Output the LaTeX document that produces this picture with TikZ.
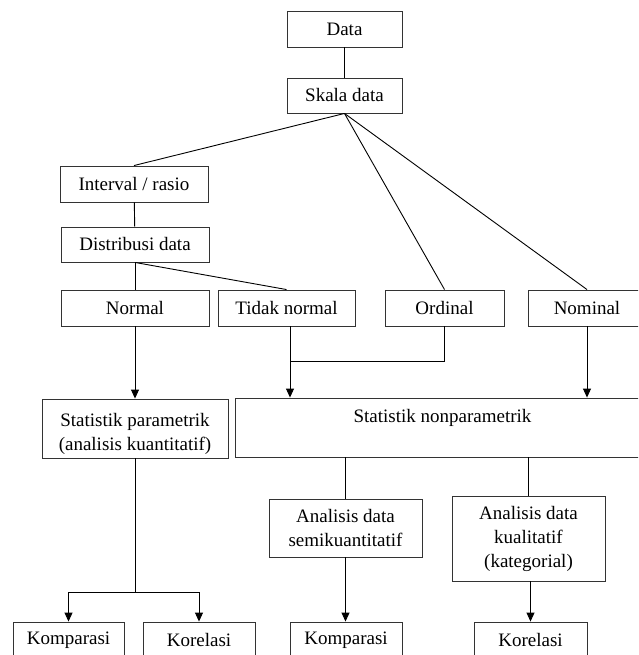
\documentclass[tikz,border=0pt]{standalone}
\usepackage{fontspec}
\setmainfont{Liberation Serif}
\usetikzlibrary{arrows.meta}
\newcommand{\lowerby}[2]{\raisebox{-#1}[\height][\depth]{#2}}
\begin{document}
\begin{tikzpicture}[x=1pt,y=1pt,
  box/.style={draw=black!80, line width=0.9pt, align=center, inner sep=0pt,
    font=\fontsize{19}{24}\selectfont},
  conn/.style={draw=black, line width=0.9pt},
  arr/.style={conn, -{Triangle[length=9pt,width=8pt]}}]
\clip (0,0) rectangle (638,-655);
\fill[white] (0,0) rectangle (638,-655);
% nodes
\node[box, minimum width=115, minimum height=36] (data) at (344.5,-29) {Data};
\node[box, minimum width=115, minimum height=35] (skala) at (344.5,-95.5) {Skala data};
\node[box, minimum width=148, minimum height=36] (interval) at (134,-184) {Interval / rasio};
\node[box, minimum width=148, minimum height=35] (distribusi) at (135,-244.5) {Distribusi data};
\node[box, minimum width=148, minimum height=36] (normal) at (135,-308) {Normal};
\node[box, minimum width=137, minimum height=36] (tidak) at (286.5,-308) {Tidak normal};
\node[box, minimum width=119, minimum height=36] (ordinal) at (444.5,-308) {Ordinal};
\node[box, minimum width=118, minimum height=36] (nominal) at (587,-308) {Nominal};
\node[box, minimum width=186, minimum height=59] (param) at (135,-428.5) {\lowerby{5pt}{Statistik parametrik}\\\lowerby{5pt}{(analisis kuantitatif)}};
\node[box, minimum width=415, minimum height=59] (nonparam) at (442.5,-427.5) {\lowerby{4pt}{Statistik nonparametrik}\\\strut};
\node[box, minimum width=153, minimum height=58] (semi) at (345.5,-528) {Analisis data\\semikuantitatif};
\node[box, minimum width=153, minimum height=85] (kual) at (528.5,-538.5) {Analisis data\\kualitatif\\(kategorial)};
\node[box, minimum width=111, minimum height=36] (komp1) at (68.5,-640) {Komparasi};
\node[box, minimum width=112, minimum height=36] (kor1) at (199,-640) {Korelasi};
\node[box, minimum width=112, minimum height=36] (komp2) at (346,-640) {Komparasi};
\node[box, minimum width=113, minimum height=36] (kor2) at (530.5,-640) {Korelasi};
% junctions
\coordinate (j) at (290,-361);
\coordinate (pj) at (135,-592);
% connectors
\draw[conn] (data) -- (skala);
\draw[conn] (skala.south) -- (interval.north);
\draw[conn] (skala.south) -- (ordinal.north);
\draw[conn] (skala.south) -- (nominal.north);
\draw[conn] (interval) -- (distribusi);
\draw[conn] (distribusi.south) -- (normal.north);
\draw[conn] (distribusi.south) -- (tidak.north);
\draw[arr] (normal) -- (param);
\draw[conn] (ordinal.south) |- (j);
\draw[arr] (tidak.south -| j) -- (nonparam.north -| j);
\draw[arr] (nominal.south) -- (nonparam.north -| nominal.south);
\draw[conn] (param) -- (pj);
\draw[arr] (pj) -| (komp1.north);
\draw[arr] (pj) -| (kor1.north);
\draw[conn] (semi.north |- nonparam.south) -- (semi.north);
\draw[conn] (kual.north |- nonparam.south) -- (kual.north);
\draw[arr] (semi.south) -- (semi.south |- komp2.north);
\draw[arr] (kor2.north |- kual.south) -- (kor2.north);
\end{tikzpicture}
\end{document}
